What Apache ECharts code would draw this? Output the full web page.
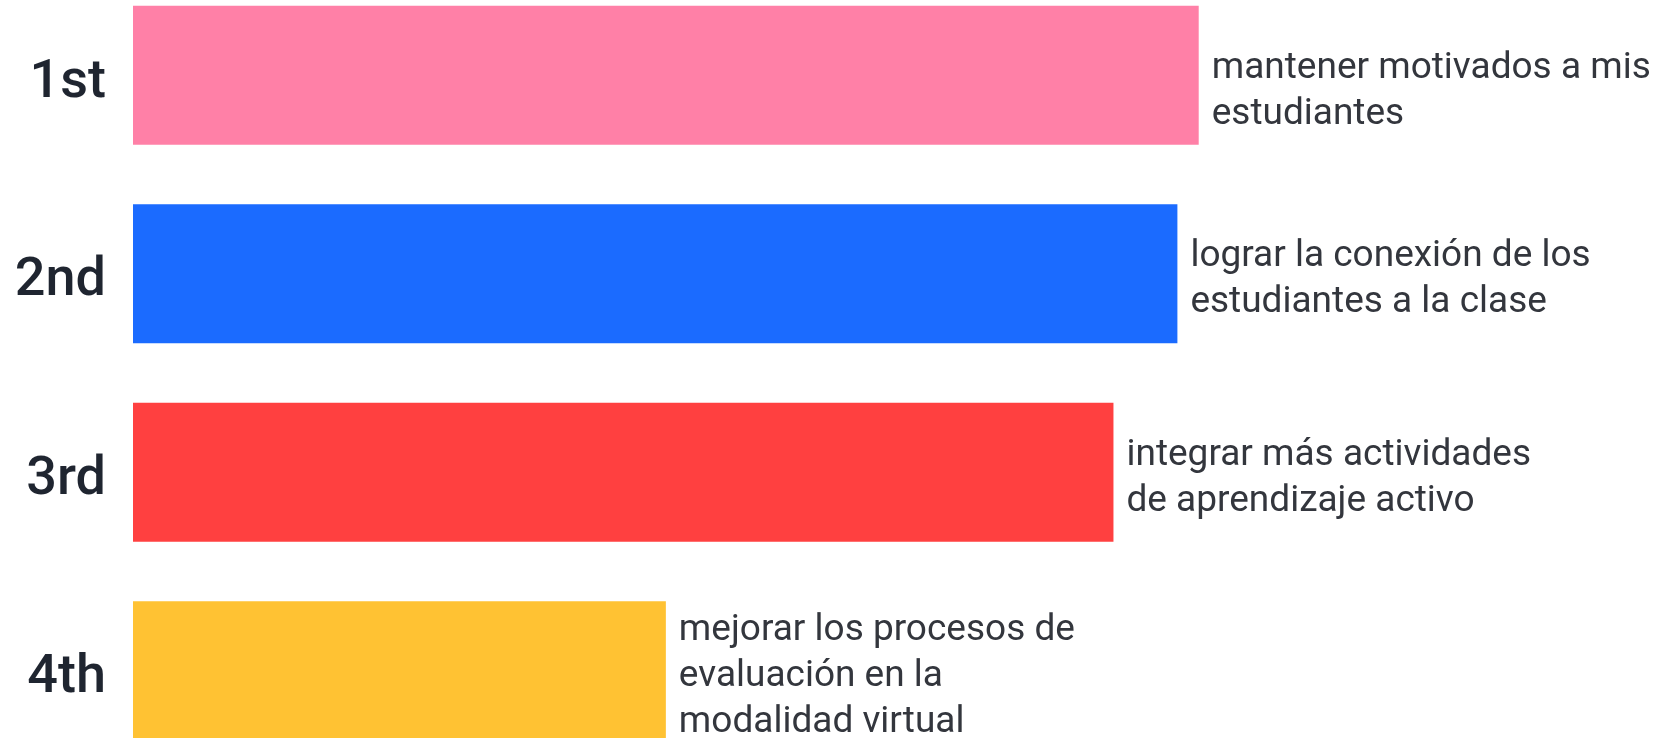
<!DOCTYPE html>
<html>
<head>
<meta charset="utf-8">
<script src="https://cdn.jsdelivr.net/npm/echarts@6/dist/echarts.min.js"></script>
<style>
html,body{margin:0;padding:0;background:#fff;}
#c{width:1665px;height:738px;}
</style>
</head>
<body>
<div id="c"></div>
<script>
const ranks = ['1st', '2nd', '3rd', '4th'];
const values = [50, 49, 46, 25];
const descriptions = [
  'mantener motivados a mis\nestudiantes',
  'lograr la conexión de los\nestudiantes a la clase',
  'integrar más actividades\nde aprendizaje activo',
  'mejorar los procesos de\nevaluación en la\nmodalidad virtual'
];
const colors = ['#FF80A7', '#1B6BFF', '#FF4040', '#FFC233'];

const chart = echarts.init(document.getElementById('c'), null, {renderer: 'canvas'});
chart.setOption({
  backgroundColor: '#ffffff',
  animation: false,
  grid: {left: 133, top: -24, width: 1492, height: 794, containLabel: false, outerBoundsMode: 'none'},
  xAxis: {
    type: 'value', min: 0, max: 70,
    show: false
  },
  yAxis: {
    type: 'category', data: ranks, inverse: true,
    axisLine: {show: false}, axisTick: {show: false}, splitLine: {show: false},
    axisLabel: {
      margin: 27,
      formatter: v => '{r|' + v + '}',
      rich: {
        r: {
          color: '#1f2530', fontSize: 54, fontWeight: 500,
          fontFamily: 'Roboto', padding: [16, 0, 0, 0]
        }
      }
    }
  },
  series: [{
    type: 'bar',
    barCategoryGap: '30%',
    data: values.map((v, i) => ({
      value: v,
      itemStyle: {color: colors[i]},
      label: {offset: [0, i === 0 ? 16 : 6]}
    })),
    label: {
      show: true, position: 'right', distance: 13,
      formatter: p => descriptions[p.dataIndex],
      color: '#33363d', fontSize: 37, lineHeight: 46,
      fontFamily: 'Roboto', align: 'left'
    }
  }]
});
</script>
</body>
</html>
